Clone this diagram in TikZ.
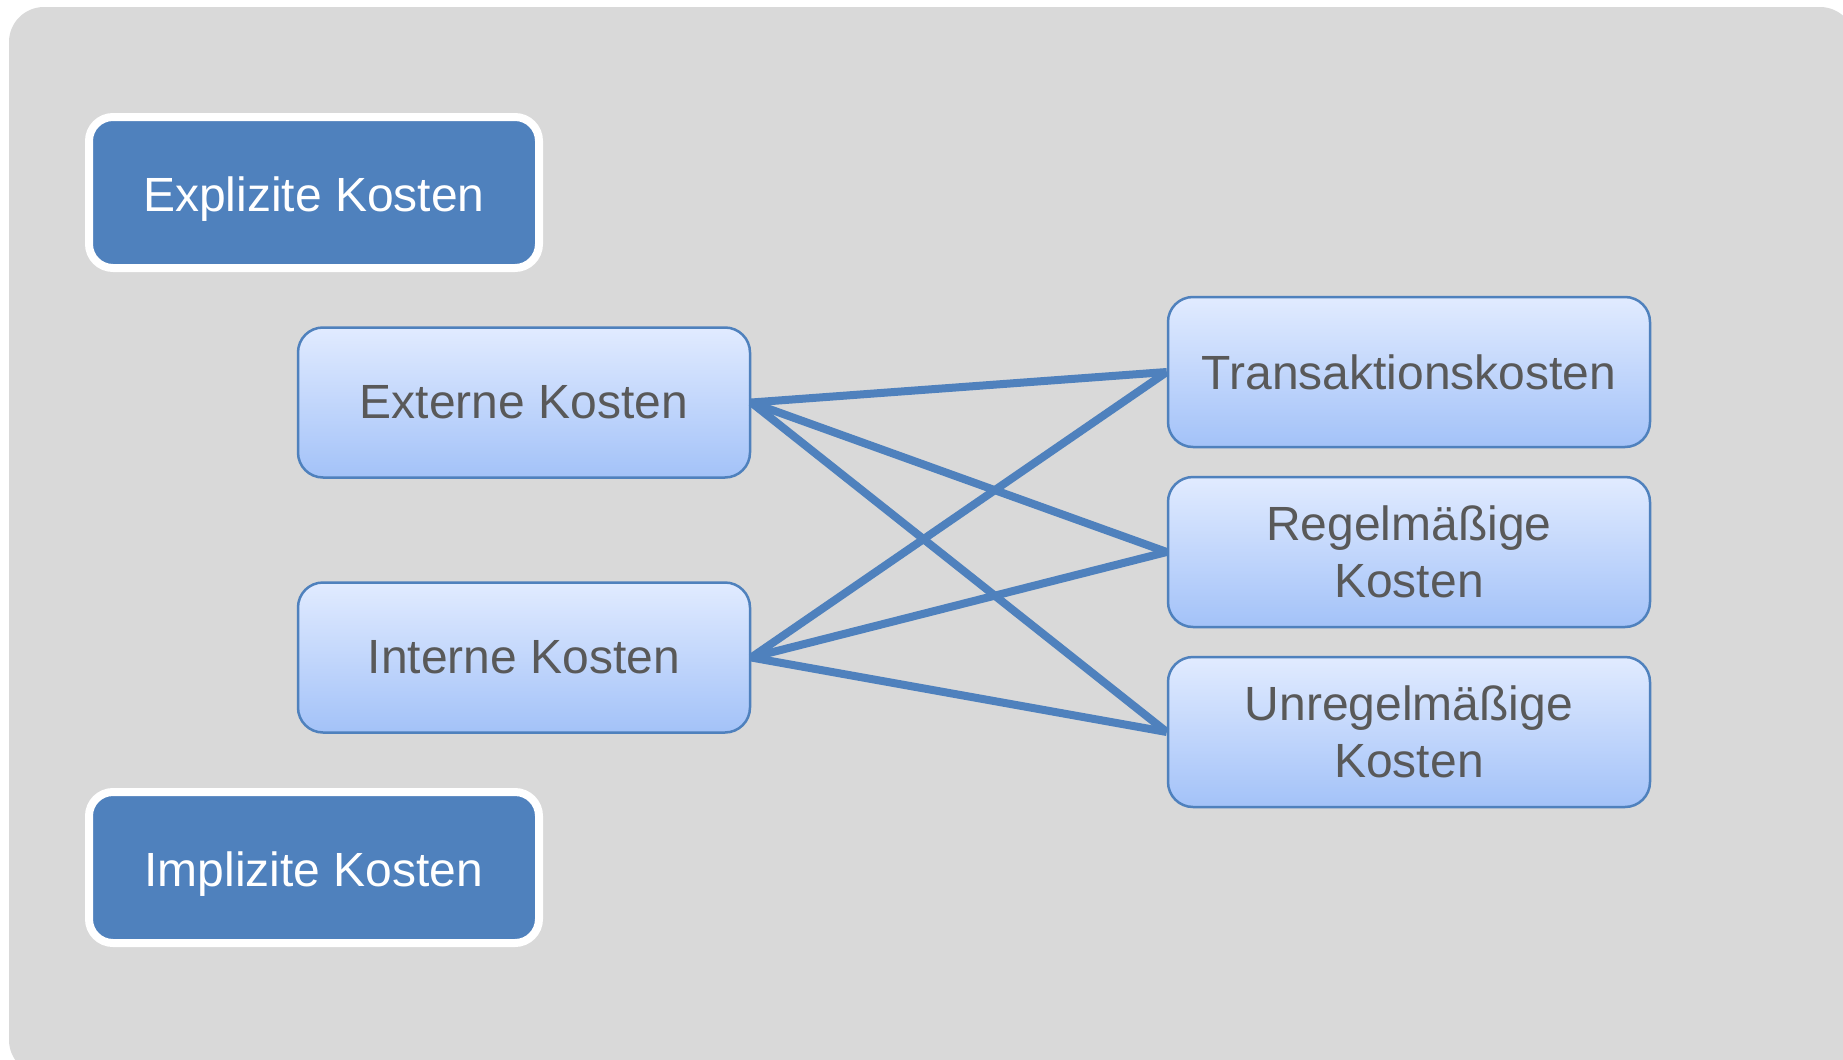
\documentclass[tikz,border=0pt]{standalone}
\usepackage{fontspec}
\setmainfont{Liberation Sans}
\definecolor{bggray}{HTML}{D9D9D9}
\definecolor{offblue}{HTML}{4F81BD}
\definecolor{lighttop}{HTML}{E1EBFF}
\definecolor{lightbot}{HTML}{A3C2F8}
\definecolor{txtgray}{HTML}{595959}
\begin{document}
\begin{tikzpicture}[x=0.5pt,y=-0.5pt,
  darkbox/.style={draw=white, line width=4pt, fill=offblue, rounded corners=12pt,
    minimum width=225pt, minimum height=75.5pt, inner sep=0pt, text=white,
    text height=23.5pt, text depth=5pt,
    font=\fontsize{24pt}{28.8pt}\selectfont},
  lightbox/.style={draw=offblue, line width=1.25pt, top color=lighttop, bottom color=lightbot,
    rounded corners=12.5pt, minimum height=75pt, inner sep=0pt, text=txtgray, align=center,
    font=\fontsize{24pt}{28.8pt}\selectfont},
  leftbox/.style={lightbox, minimum width=226pt},
  rightbox/.style={lightbox, minimum width=241pt},
  link/.style={draw=offblue, line width=4pt}
]
\useasboundingbox (0,0) rectangle (1843,1060);
\begin{scope}
\clip (0,0) rectangle (1843,1060);
\fill[bggray, rounded corners=17.5pt] (9,7) rectangle (1855,1075);
\end{scope}

\node[darkbox] (expl) at (314,192.5) {Explizite Kosten};
\node[darkbox] (impl) at (314,867.5) {Implizite Kosten};

\node[leftbox] (ext) at (524,402.5) {Externe Kosten};
\node[leftbox] (int) at (524,657.5) {Interne Kosten};

\node[rightbox] (tr) at (1409,372) {Transaktionskosten};
\node[rightbox] (reg) at (1409,552) {Regelmäßige\\Kosten};
\node[rightbox] (unr) at (1409,732) {Unregelmäßige\\Kosten};

\draw[link] (ext.east) -- (tr.west);
\draw[link] (ext.east) -- (reg.west);
\draw[link] (ext.east) -- (unr.west);
\draw[link] (int.east) -- (tr.west);
\draw[link] (int.east) -- (reg.west);
\draw[link] (int.east) -- (unr.west);
\end{tikzpicture}
\end{document}
